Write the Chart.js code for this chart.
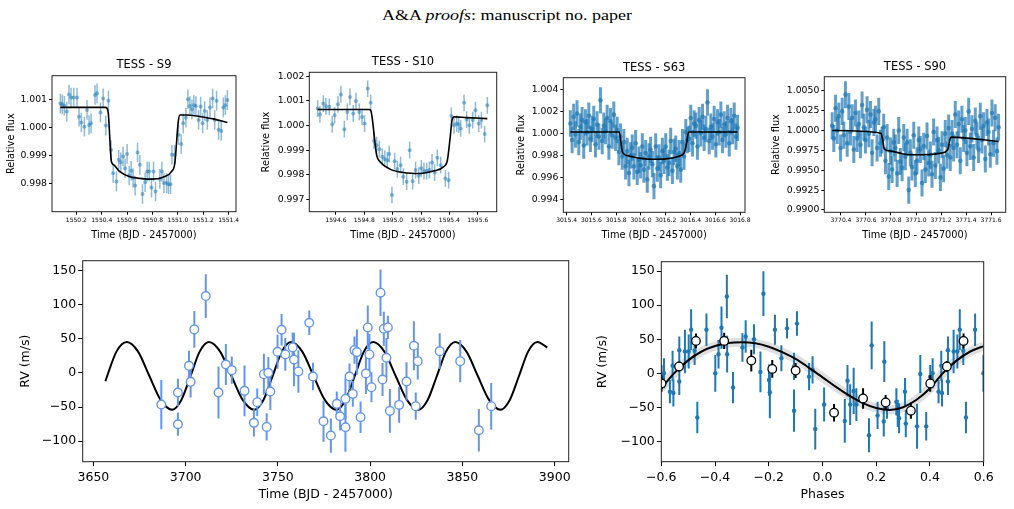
<!DOCTYPE html>
<html><head><meta charset="utf-8">
<script src="https://cdn.jsdelivr.net/npm/chart.js@4.4.1/dist/chart.umd.min.js"></script>
<style>
html,body{margin:0;padding:0;background:#fff;}
body{width:1014px;height:509px;overflow:hidden;position:relative;}
#hdr{position:absolute;left:0;top:4px;width:1014px;text-align:center;font-family:"Liberation Serif","DejaVu Serif",serif;font-size:18px;line-height:22px;color:#000;transform:scaleY(0.8);transform-origin:50% 50%;}
canvas{position:absolute;}
</style></head><body>
<div id="hdr">A&amp;A <i>proofs</i>: manuscript no. paper</div>
<canvas id="cS9"></canvas><canvas id="cS10"></canvas><canvas id="cS63"></canvas><canvas id="cS90"></canvas>
<canvas id="cRV"></canvas><canvas id="cPH"></canvas>
<script>
// ---------------- DATA ----------------
// TESS S9
const S9_T = [1550.074,1550.089,1550.105,1550.124,1550.142,1550.158,1550.179,1550.205,1550.221,1550.239,1550.263,1550.284,1550.300,1550.316,1550.347,1550.363,1550.390,1550.411,1550.432,1550.453,1550.474,1550.490,1550.516,1550.534,1550.550,1550.568,1550.584,1550.600,1550.616,1550.632,1550.647,1550.663,1550.682,1550.700,1550.721,1550.742,1550.758,1550.774,1550.792,1550.808,1550.824,1550.858,1550.874,1550.890,1550.911,1550.926,1550.942,1550.953,1550.974,1551.005,1551.026,1551.042,1551.063,1551.079,1551.095,1551.111,1551.126,1551.142,1551.163,1551.179,1551.195,1551.211,1551.232,1551.253,1551.274,1551.290,1551.305,1551.321,1551.342,1551.358,1551.374,1551.390];
const S9_F = [1.00085,1.00082,1.00077,1.00056,1.00117,1.00106,1.00106,1.00106,1.00038,1.00017,1.00002,1.00062,1.00008,1.00014,1.00115,1.00121,1.00053,1.00103,1.00006,1.00095,0.99919,0.99836,0.99807,0.99884,0.99875,0.99896,0.99854,0.99905,0.99828,0.99845,0.99819,0.99792,0.99910,0.99866,0.99762,0.99804,0.99842,0.99842,0.99785,0.99842,0.99771,0.99816,0.99842,0.99801,0.99801,0.99797,0.99797,0.99902,0.99902,0.99973,0.99940,1.00014,1.00034,1.00100,1.00076,1.00064,1.00079,1.00076,1.00026,1.00074,1.00014,1.00058,1.00026,1.00071,1.00103,1.00026,1.00095,0.99991,0.99987,1.00071,1.00079,1.00097];
const S9_ERR = 0.00035;
const S9_MODEL_T = [1550.074,1550.432,1550.450,1550.476,1550.495,1550.542,1550.621,1550.700,1550.792,1550.884,1550.950,1550.976,1551.003,1551.016,1551.069,1551.174,1551.279,1551.390];
const S9_MODEL_F = [1.00071,1.00071,1.00056,0.99878,0.99866,0.99842,0.99824,0.99818,0.99815,0.99822,0.99842,0.99872,1.00020,1.00044,1.00044,1.00038,1.00030,1.00017];
const S9_XTICKS = [1550.2,1550.4,1550.6,1550.8,1551.0,1551.2,1551.4];
const S9_YTICKS = [0.998,0.999,1.000,1.001];

// TESS S10
const S10_T = [1594.471,1594.487,1594.511,1594.529,1594.553,1594.574,1594.591,1594.614,1594.635,1594.659,1594.680,1594.699,1594.722,1594.741,1594.765,1594.784,1594.802,1594.824,1594.845,1594.868,1594.887,1594.906,1594.927,1594.944,1594.962,1594.976,1594.995,1595.014,1595.033,1595.056,1595.075,1595.099,1595.120,1595.141,1595.162,1595.184,1595.202,1595.221,1595.240,1595.259,1595.278,1595.296,1595.315,1595.339,1595.372,1595.395,1595.414,1595.433,1595.452,1595.466,1595.480,1595.504,1595.522,1595.541,1595.565,1595.584,1595.607,1595.626,1595.649,1595.668];
const S10_F = [1.00069,1.00045,1.00089,1.00078,1.00076,1.00005,1.00042,1.00086,1.00126,0.99985,1.00055,1.00116,1.00049,1.00099,1.00055,1.00035,1.00008,1.00150,1.00092,0.99938,0.99920,0.99904,0.99873,0.99864,0.99859,0.99884,0.99718,0.99855,0.99823,0.99839,0.99792,0.99772,0.99900,0.99774,0.99819,0.99796,0.99826,0.99815,0.99815,0.99819,0.99850,0.99809,0.99869,0.99839,0.99785,0.99778,1.00039,1.00001,1.00008,1.00004,0.99988,1.00092,1.00024,1.00001,1.00022,1.00062,1.00008,1.00022,0.99965,1.00082];
const S10_ERR = 0.00034;
const S10_MODEL_T = [1594.471,1594.835,1594.845,1594.887,1594.911,1594.981,1595.075,1595.193,1595.287,1595.358,1595.386,1595.405,1595.419,1595.433,1595.522,1595.668];
const S10_MODEL_F = [1.00065,1.00065,1.00062,0.99880,0.99853,0.99823,0.99809,0.99805,0.99815,0.99832,0.99859,0.99947,1.00022,1.00035,1.00032,1.00028];
const S10_XTICKS = [1594.6,1594.8,1595.0,1595.2,1595.4,1595.6];
const S10_YTICKS = [0.997,0.998,0.999,1.000,1.001,1.002];

// TESS S63
const S63_T = [3015.430,3015.444,3015.457,3015.471,3015.484,3015.498,3015.511,3015.525,3015.538,3015.552,3015.565,3015.579,3015.592,3015.606,3015.619,3015.633,3015.646,3015.660,3015.673,3015.687,3015.700,3015.714,3015.727,3015.741,3015.754,3015.768,3015.781,3015.795,3015.808,3015.822,3015.835,3015.849,3015.862,3015.876,3015.889,3015.903,3015.916,3015.930,3015.943,3015.957,3015.970,3015.984,3015.997,3016.011,3016.024,3016.038,3016.051,3016.065,3016.078,3016.092,3016.105,3016.119,3016.132,3016.146,3016.159,3016.173,3016.186,3016.200,3016.213,3016.227,3016.240,3016.254,3016.267,3016.281,3016.294,3016.308,3016.321,3016.335,3016.348,3016.362,3016.375,3016.389,3016.402,3016.416,3016.429,3016.443,3016.456,3016.470,3016.483,3016.497,3016.510,3016.524,3016.537,3016.551,3016.564,3016.578,3016.591,3016.605,3016.618,3016.632,3016.645,3016.659,3016.672,3016.686,3016.699,3016.713,3016.726,3016.740,3016.753,3016.767,3016.780];
const S63_F = [1.0009,0.9994,1.0015,0.9999,1.0018,0.9992,1.0006,1.0012,0.9989,1.0010,1.0001,1.0016,0.9995,1.0004,1.0013,0.9990,1.0008,0.9997,1.0030,0.9993,1.0007,1.0002,1.0014,0.9988,1.0011,0.9998,1.0017,0.9996,1.0003,0.9983,0.9997,0.9979,0.9992,0.9970,0.9984,0.9964,0.9980,0.9987,0.9970,0.9991,0.9965,0.9976,0.9971,0.9988,0.9967,0.9982,0.9958,0.9979,0.9985,0.9972,0.9952,0.9988,0.9968,0.9978,0.9962,0.9984,0.9975,0.9988,0.9969,0.9973,0.9993,0.9966,0.9983,0.9986,0.9970,0.9982,0.9967,0.9992,0.9979,1.0001,0.9994,0.9995,1.0014,0.9991,1.0009,1.0007,0.9988,1.0012,1.0000,1.0015,0.9996,1.0004,1.0028,0.9993,1.0006,0.9997,1.0013,0.9990,1.0010,1.0001,1.0017,0.9994,1.0008,0.9999,1.0014,0.9991,1.0011,1.0002,1.0016,0.9997,1.0005];
const S63_ERR = 0.0012;
const S63_MODEL_T = [3015.430,3015.825,3015.838,3015.852,3015.900,3016.000,3016.100,3016.200,3016.300,3016.350,3016.370,3016.385,3016.780];
const S63_MODEL_F = [1.00012,1.00012,0.99920,0.99825,0.99795,0.99772,0.99764,0.99768,0.99790,0.99825,0.99920,1.00012,1.00012];
const S63_XTICKS = [3015.4,3015.6,3015.8,3016.0,3016.2,3016.4,3016.6,3016.8];
const S63_YTICKS = [0.994,0.996,0.998,1.000,1.002,1.004];

// TESS S90
const S90_T = [3770.330,3770.343,3770.357,3770.370,3770.383,3770.397,3770.410,3770.423,3770.436,3770.450,3770.463,3770.476,3770.490,3770.503,3770.516,3770.530,3770.543,3770.556,3770.569,3770.583,3770.596,3770.609,3770.623,3770.636,3770.649,3770.663,3770.676,3770.689,3770.702,3770.716,3770.729,3770.742,3770.756,3770.769,3770.782,3770.796,3770.809,3770.822,3770.835,3770.849,3770.862,3770.875,3770.889,3770.902,3770.915,3770.929,3770.942,3770.955,3770.968,3770.982,3770.995,3771.008,3771.022,3771.035,3771.048,3771.062,3771.075,3771.088,3771.101,3771.115,3771.128,3771.141,3771.155,3771.168,3771.181,3771.195,3771.208,3771.221,3771.234,3771.248,3771.261,3771.274,3771.288,3771.301,3771.314,3771.328,3771.341,3771.354,3771.367,3771.381,3771.394,3771.407,3771.421,3771.434,3771.447,3771.461,3771.474,3771.487,3771.500,3771.514,3771.527,3771.540,3771.554,3771.567,3771.580,3771.594,3771.607,3771.620,3771.633,3771.647,3771.660];
const S90_F = [1.0006,0.9990,1.0028,1.0000,1.0018,0.9978,1.0024,0.9994,1.0045,0.9984,1.0030,0.9998,1.0016,0.9976,1.0022,0.9990,1.0008,0.9982,1.0032,1.0004,0.9988,1.0026,0.9996,1.0020,0.9972,1.0010,1.0014,0.9978,1.0024,0.9984,0.9988,1.0004,0.9962,0.9991,0.9942,0.9974,0.9951,0.9985,0.9978,0.9946,1.0000,0.9961,0.9953,0.9991,0.9967,0.9985,0.9925,0.9972,0.9954,0.9994,0.9946,0.9962,0.9988,0.9976,0.9934,0.9980,0.9951,0.9993,0.9959,0.9969,0.9945,0.9998,0.9956,0.9988,0.9975,0.9941,0.9982,0.9952,0.9996,0.9969,1.0003,0.9966,0.9996,0.9978,1.0020,0.9982,1.0008,0.9962,1.0014,0.9990,1.0000,0.9972,1.0024,0.9980,1.0002,0.9966,1.0012,0.9994,0.9976,1.0018,0.9988,1.0006,0.9964,1.0010,0.9998,0.9970,1.0022,0.9984,1.0016,0.9974,1.0004];
const S90_ERR = 0.0017;
const S90_MODEL_T = [3770.330,3770.720,3770.735,3770.747,3770.800,3770.900,3770.990,3771.100,3771.200,3771.253,3771.270,3771.280,3771.660];
const S90_MODEL_F = [1.00000,0.99966,0.99870,0.99766,0.99740,0.99705,0.99694,0.99696,0.99715,0.99757,0.99880,0.99916,0.99862];
const S90_XTICKS = [3770.4,3770.6,3770.8,3771.0,3771.2,3771.4,3771.6];
const S90_YTICKS = [0.9900,0.9925,0.9950,0.9975,1.0000,1.0025,1.0050];

// RV vs time
const RV_T = [3686.8,3695.8,3695.8,3701.8,3702.7,3704.7,3710.9,3717.8,3721.8,3725.0,3731.9,3737.0,3738.8,3742.4,3743.9,3744.8,3745.9,3749.8,3752.0,3754.0,3758.0,3758.7,3761.1,3767.0,3769.0,3774.7,3778.7,3781.9,3783.7,3786.6,3786.6,3788.8,3790.6,3791.5,3792.8,3794.8,3797.7,3798.7,3799.6,3800.7,3805.6,3806.7,3807.4,3808.8,3809.6,3810.7,3815.7,3819.7,3823.7,3824.7,3825.8,3837.7,3848.8,3858.9,3865.6];
const RV_V = [-46.4,-28.8,-75.2,10.3,-13.2,63.5,112.3,-28.8,12.2,3.9,-26.4,-73.2,-43.0,-2.0,-79.1,0.0,-27.3,30.8,63.0,26.9,37.1,19.5,2.0,73.2,-5.4,-70.8,-91.8,-45.4,-63.5,-79.6,-38.1,-5.4,-30.8,33.2,30.3,-64.9,-1.0,66.4,26.9,-21.0,117.2,-9.8,64.5,22.0,66.4,-55.7,-46.9,-12.7,39.6,-48.8,17.1,31.7,17.1,-84.0,-48.8];
const RV_E = [36,20,17,22,23,27,32,38,30,20,37,20,20,30,20,23,27,25,23,24,22,39,31,18,20,30,25,18,21,36,30,19,19,20,33,23,30,32,30,22,34,24,25,29,17,32,26,28,36,20,27,26,31,31,34];
const RV_MODEL_T = [3656.5,3662.5,3668.1,3674.2,3680.4,3686.5,3692.6,3697.6,3702.6,3707.6,3712.6,3718.7,3724.9,3731.0,3737.1,3742.1,3747.1,3752.1,3757.1,3763.2,3769.4,3775.5,3781.6,3786.6,3791.6,3796.6,3801.6,3807.7,3813.9,3820.0,3826.1,3831.1,3836.1,3841.1,3846.1,3852.2,3858.4,3864.5,3870.6,3875.6,3880.6,3885.6,3890.6,3896.0];
const RV_MODEL_V = [-12,31,45,31,-5,-40,-54,-40,-5,31,45,31,-5,-40,-54,-40,-5,31,45,31,-5,-40,-54,-40,-5,31,45,31,-5,-40,-54,-40,-5,31,45,31,-5,-40,-54,-40,-5,31,45,37];
const RV_XTICKS = [3650,3700,3750,3800,3850,3900];
const RV_YTICKS = [-100,-50,0,50,100,150];

// RV vs phase
const PH_X = [-0.599,-0.590,-0.568,-0.558,-0.555,-0.533,-0.533,-0.512,-0.498,-0.489,-0.476,-0.466,-0.432,-0.399,-0.387,-0.376,-0.356,-0.355,-0.333,-0.298,-0.286,-0.255,-0.231,-0.220,-0.199,-0.196,-0.177,-0.153,-0.132,-0.106,-0.106,-0.095,-0.050,-0.037,-0.027,0.006,0.083,0.093,0.103,0.116,0.126,0.173,0.183,0.205,0.228,0.230,0.240,0.275,0.280,0.285,0.307,0.310,0.352,0.364,0.386,0.401,0.410,0.432,0.442,0.445,0.467,0.467,0.488,0.502,0.511,0.524,0.534,0.568,0.599];
const PH_V = [-5,0,-27,11,-29,34,-12,32,32,64,33,-65,64,0,28,67,113,28,-21,38,54,50,2,117,-10,-28,64,22,66,10,-55,73,-5,5,-82,-46,-70,-11,-46,-26,-46,-91,41,-62,-71,17,-52,-42,-59,-66,-27,-74,-78,-1,-78,-5,0,-27,11,-29,34,-12,32,32,64,33,-65,64,0];
const PH_E = [17,22,17,22,20,20,20,32,25,30,21,23,24,27,21,31,32,27,23,21,24,22,30,33,23,38,22,19,15,20,31,18,20,20,30,25,32,23,30,34,24,25,35,20,22,30,15,20,20,22,20,20,33,28,21,17,22,17,22,20,20,20,32,25,30,21,23,24,27];
const PHB_X = [-0.599,-0.534,-0.471,-0.366,-0.265,-0.187,-0.100,0.043,0.151,0.235,0.329,0.401,0.463,0.525];
const PHB_V = [-15,10,47.5,47.5,18.6,6.4,4,-58,-37,-43,-55,-15,10,47.5];
const PHB_E = [12,7,11,12,16,13,11,13,15,11,12,12,8,11];
const PH_MODEL_X = [-0.6,-0.55,-0.5,-0.45,-0.4,-0.35,-0.3,-0.25,-0.2,-0.15,-0.1,-0.05,0,0.05,0.1,0.15,0.2,0.25,0.3,0.35,0.4,0.45,0.5,0.55,0.6];
const PH_MODEL_V = [-22,1,19,32,40,44.5,45.5,44,39,31,21,8,-6,-20,-33,-44,-51,-54,-50,-39,-22,1,19,32,40];
const PH_XTICKS = [-0.6,-0.4,-0.2,0.0,0.2,0.4,0.6];
const PH_YTICKS = [-100,-50,0,50,100,150];

// ---------------- RENDERING ----------------
const FONT = "'DejaVu Sans', sans-serif";
Chart.defaults.font.family = FONT;
Chart.defaults.color = '#000';
const xy = (xs, ys) => xs.map((x, i) => ({x: x, y: ys[i]}));
const fmt = dec => v => Number(v).toFixed(dec).replace('-', '\u2212');

const errPlugin = {
  id: 'errbars',
  beforeDatasetDraw(chart, args) {
    const ds = chart.data.datasets[args.index];
    if (!ds.yErr) return;
    const xs = chart.scales.x, ys = chart.scales.y, c = chart.ctx, a = chart.chartArea;
    c.save();
    c.beginPath(); c.rect(a.left, a.top, a.right - a.left, a.bottom - a.top); c.clip();
    c.strokeStyle = ds.errColor; c.lineWidth = ds.errWidth; c.lineCap = 'butt';
    ds.data.forEach((p, i) => {
      const e = Array.isArray(ds.yErr) ? ds.yErr[i] : ds.yErr;
      const px = xs.getPixelForValue(p.x);
      c.beginPath();
      c.moveTo(px, ys.getPixelForValue(p.y - e));
      c.lineTo(px, ys.getPixelForValue(p.y + e));
      c.stroke();
    });
    c.restore();
  }
};
const spinePlugin = {
  id: 'spines',
  afterDatasetsDraw(chart) {
    const a = chart.chartArea, c = chart.ctx;
    c.save(); c.strokeStyle = '#222'; c.lineWidth = 1;
    c.strokeRect(a.left, a.top, a.right - a.left, a.bottom - a.top);
    c.restore();
  }
};
Chart.register(errPlugin, spinePlugin);

function makePanel(id, g, o) {
  const cv = document.getElementById(id);
  const ylh = o.labSize * 1.2, xlh = o.labSize * 1.2;
  const cl = Math.floor(g.ylabX - ylh / 2);
  const yPadTop = g.ylabX - ylh / 2 - cl;
  let ct, titleOpt, layoutTop = 0;
  if (o.title) {
    const tlh = o.titleSize * 1.2;
    ct = Math.floor(g.titleY - tlh / 2);
    titleOpt = {display: true, fullSize: false, text: o.title, color: '#000',
      font: {family: FONT, size: o.titleSize, weight: 'normal'},
      padding: {top: g.titleY - tlh / 2 - ct, bottom: g.t - g.titleY - tlh / 2}};
  } else {
    ct = Math.floor(g.t - 8);
    titleOpt = {display: false};
    layoutTop = g.t - ct;
  }
  const cr = Math.ceil(g.r + (g.rpad || 6));
  const cb = Math.ceil(g.xlabY + xlh / 2 + 1);
  const W = cr - cl, H = cb - ct;
  const yw = g.l - cl, xh = cb - g.b;
  const xPadBot = cb - g.xlabY - xlh / 2;
  cv.width = W; cv.height = H;
  cv.style.left = cl + 'px'; cv.style.top = ct + 'px';
  cv.style.width = W + 'px'; cv.style.height = H + 'px';
  const grid = {display: true, drawOnChartArea: false, drawTicks: true, tickLength: o.tickLen, color: '#000', lineWidth: 1};
  return new Chart(cv, {
    type: 'scatter',
    data: {datasets: o.datasets},
    options: {
      responsive: false, animation: false, devicePixelRatio: 1,
      layout: {padding: {left: 0, top: layoutTop, right: cr - g.r, bottom: 0}},
      plugins: {legend: {display: false}, tooltip: {enabled: false}, title: titleOpt},
      elements: {point: {hoverRadius: 0}},
      scales: {
        x: {type: 'linear', bounds: 'data', min: o.xmin, max: o.xmax,
          afterBuildTicks: s => { s.ticks = o.xticks.map(v => ({value: v})); },
          ticks: {callback: fmt(o.xdec), font: {size: o.xtSize}, color: '#000', padding: o.xtPad, maxRotation: 0, autoSkip: false},
          grid: grid, border: {display: false},
          title: {display: true, text: o.xlab, color: '#000', font: {size: o.labSize}, padding: {top: 0, bottom: xPadBot}},
          afterFit: s => { s.height = xh; s.paddingLeft = 0; s.paddingRight = 0; }
        },
        y: {type: 'linear', bounds: 'data', min: o.ymin, max: o.ymax,
          afterBuildTicks: s => { s.ticks = o.yticks.map(v => ({value: v})); },
          ticks: {callback: fmt(o.ydec), font: {size: o.ytSize}, color: '#000', padding: o.ytPad, autoSkip: false},
          grid: grid, border: {display: false},
          title: {display: true, text: o.ylab, color: '#000', font: {size: o.labSize}, padding: {top: yPadTop, bottom: 0}},
          afterFit: s => { s.width = yw; s.paddingTop = 0; s.paddingBottom = 0; }
        }
      }
    }
  });
}

function lcDatasets(t, f, err, mt, mf, ptR, errW, alpha) {
  const col = 'rgba(31,119,180,' + alpha + ')';
  return [
    {data: xy(mt, mf), showLine: true, borderColor: '#000', borderWidth: 1.6, pointRadius: 0, fill: false, cubicInterpolationMode: 'monotone', clip: 0},
    {data: xy(t, f), yErr: err, errColor: col, errWidth: errW, pointRadius: ptR, backgroundColor: col, borderWidth: 0, clip: 0}
  ];
}
const topStyle = {titleSize: 11.5, labSize: 9.8, ytSize: 9.3, xtSize: 6, tickLen: 3, ytPad: 2, xtPad: 2,
  xlab: 'Time (BJD - 2457000)', ylab: 'Relative flux'};

makePanel('cS9', {l: 52, t: 75.7, r: 236, b: 211.7, titleY: 65, ylabX: 11.5, xlabY: 235},
  Object.assign({}, topStyle, {title: 'TESS - S9', xmin: 1550.008, xmax: 1551.458, ymin: 0.99699, ymax: 1.00184,
    xticks: S9_XTICKS, yticks: S9_YTICKS, xdec: 1, ydec: 3,
    datasets: lcDatasets(S9_T, S9_F, S9_ERR, S9_MODEL_T, S9_MODEL_F, 2, 1.5, 0.5)}));
makePanel('cS10', {l: 309.3, t: 72.3, r: 496.7, b: 211.7, titleY: 61.7, ylabX: 266.3, xlabY: 235},
  Object.assign({}, topStyle, {title: 'TESS - S10', xmin: 1594.412, xmax: 1595.734, ymin: 0.9965, ymax: 1.00216,
    xticks: S10_XTICKS, yticks: S10_YTICKS, xdec: 1, ydec: 3,
    datasets: lcDatasets(S10_T, S10_F, S10_ERR, S10_MODEL_T, S10_MODEL_F, 2, 1.5, 0.5)}));
makePanel('cS63', {l: 563.3, t: 77.7, r: 745, b: 212.3, titleY: 67.7, ylabX: 521.2, xlabY: 235},
  Object.assign({}, topStyle, {title: 'TESS - S63', xmin: 3015.373, xmax: 3016.84, ymin: 0.99282, ymax: 1.00506,
    xticks: S63_XTICKS, yticks: S63_YTICKS, xdec: 1, ydec: 3,
    datasets: lcDatasets(S63_T, S63_F, S63_ERR, S63_MODEL_T, S63_MODEL_F, 2.3, 3, 0.7)}));
makePanel('cS90', {l: 824.3, t: 76.7, r: 1005.7, b: 212.3, titleY: 66.7, ylabX: 776.2, xlabY: 235},
  Object.assign({}, topStyle, {title: 'TESS - S90', xmin: 3770.267, xmax: 3771.717, ymin: 0.98971, ymax: 1.00676,
    xticks: S90_XTICKS, yticks: S90_YTICKS, xdec: 1, ydec: 4,
    datasets: lcDatasets(S90_T, S90_F, S90_ERR, S90_MODEL_T, S90_MODEL_F, 2.3, 3, 0.7)}));

const botStyle = {titleSize: 12, labSize: 12.5, ytSize: 12.5, xtSize: 12.5, tickLen: 4.5, ytPad: 2, xtPad: 4};
makePanel('cRV', {l: 82.7, t: 260.7, r: 568.7, b: 461.7, ylabX: 25.3, xlabY: 495, rpad: 16},
  Object.assign({}, botStyle, {xlab: 'Time (BJD - 2457000)', ylab: 'RV (m/s)', xmin: 3644.2, xmax: 3907.6, ymin: -130, ymax: 164,
    xticks: RV_XTICKS, yticks: RV_YTICKS, xdec: 0, ydec: 0,
    datasets: [
      {data: xy(RV_T, RV_V), yErr: RV_E, errColor: '#6495ED', errWidth: 2, pointRadius: 4.3, backgroundColor: '#fff', borderColor: '#6495ED', borderWidth: 1.4, clip: 0},
      {data: xy(RV_MODEL_T, RV_MODEL_V), showLine: true, borderColor: '#000', borderWidth: 2, pointRadius: 0, fill: false, cubicInterpolationMode: 'monotone', clip: 0}
    ]}));
makePanel('cPH', {l: 661.3, t: 261.7, r: 983.7, b: 461.7, ylabX: 602.8, xlabY: 495, rpad: 18},
  Object.assign({}, botStyle, {xlab: 'Phases', ylab: 'RV (m/s)', xmin: -0.6, xmax: 0.6, ymin: -130, ymax: 164,
    xticks: PH_XTICKS, yticks: PH_YTICKS, xdec: 1, ydec: 0,
    datasets: [
      {data: xy(PHB_X, PHB_V), yErr: PHB_E, errColor: '#000', errWidth: 2, pointRadius: 4.3, backgroundColor: '#fff', borderColor: '#000', borderWidth: 1.3, clip: 0},
      {data: xy(PH_MODEL_X, PH_MODEL_V), showLine: true, borderColor: '#000', borderWidth: 2, pointRadius: 0, fill: false, cubicInterpolationMode: 'monotone', clip: 0},
      {data: xy(PH_X, PH_V), yErr: PH_E, errColor: '#1f77b4', errWidth: 2, pointRadius: 2.2, backgroundColor: '#1f77b4', borderWidth: 0, clip: 0},
      {data: xy(PH_MODEL_X, PH_MODEL_V), showLine: true, borderColor: 'rgba(150,150,150,0.3)', borderWidth: 9, pointRadius: 0, fill: false, cubicInterpolationMode: 'monotone', clip: 0}
    ]}));
</script>
</body></html>
